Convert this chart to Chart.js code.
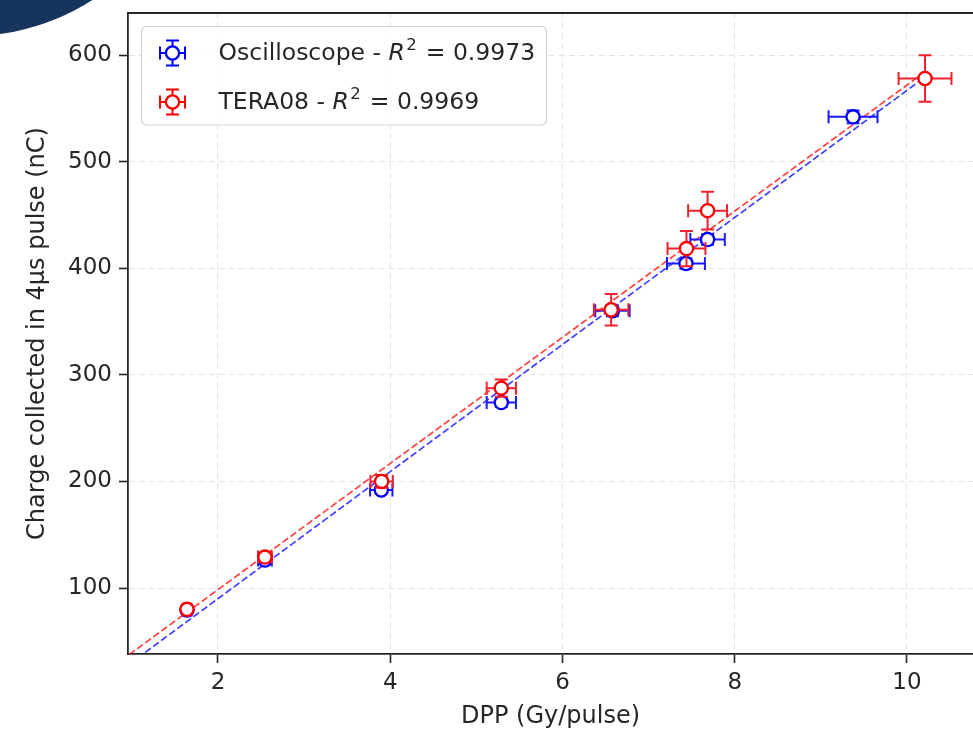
<!DOCTYPE html>
<html><head><meta charset="utf-8">
<script src="https://cdn.jsdelivr.net/npm/chart.js@4.4.1/dist/chart.umd.min.js"></script>
<style>
html,body{margin:0;padding:0;background:#fff;}
#wrap{position:relative;width:973px;height:740px;overflow:hidden;background:#fff;}
#blob{position:absolute;left:-256px;top:-416px;width:452px;height:452px;border-radius:50%;background:#16345c;}
#c{position:absolute;left:0;top:0;}
</style></head><body>
<div id="wrap"><div id="blob"></div><canvas id="c" width="973" height="740"></canvas></div>
<script>
// ---- data ----
const dppOsc    = [1.64, 2.545, 3.896, 5.29, 6.58, 7.434, 7.685, 9.374];
const qOsc      = [79.4, 126.2, 192, 274, 360, 404.4, 426.9, 542];
const dppOscErr = [0.05, 0.08, 0.13, 0.17, 0.2, 0.22, 0.2, 0.284];
const qOscErr   = [1.5, 2, 3, 4, 5, 5, 5, 6];

const dppTera    = [1.64, 2.545, 3.9, 5.29, 6.565, 7.44, 7.685, 10.21];
const qTera      = [80, 129, 200, 287.5, 361, 418.4, 454, 578];
const dppTeraErr = [0.05, 0.08, 0.13, 0.17, 0.2, 0.22, 0.226, 0.307];
const qTeraErr   = [3, 4, 6, 8, 14.8, 16.5, 17.8, 21.8];

// fitted lines (end points)
const fitDpp  = [0.5, 10.21];
const fitOsc  = [0.6, 579.3];
const fitTera = [9.8, 584.2];

const xTicks = [2, 4, 6, 8, 10];
const yTicks = [100, 200, 300, 400, 500, 600];
const xRange = [0.955, 10.767];
const yRange = [38.1, 639.4];

const seriesNames = ['Oscilloscope - ', 'TERA08 - '];
const r2Values = ['0.9973', '0.9969'];

// ---- chart ----
const FONT = "'DejaVu Sans', sans-serif";
const TXT = '#262626';
Chart.defaults.font.family = FONT;
Chart.defaults.font.size = 23;
Chart.defaults.color = TXT;

const pts = (xs, ys) => xs.map((x, i) => ({x: x, y: ys[i]}));

const errorBars = {
  id: 'errorBars',
  beforeDatasetDraw(chart, args) {
    const ds = chart.data.datasets[args.index];
    if (!ds.xErr) return;
    const xs = chart.scales.x, ys = chart.scales.y, ctx = chart.ctx, a = chart.chartArea;
    ctx.save();
    ctx.beginPath(); ctx.rect(a.left, a.top, a.right - a.left, a.bottom - a.top); ctx.clip();
    ctx.strokeStyle = ds.errColor; ctx.lineWidth = 2; ctx.setLineDash([]);
    const c = 6.5;
    ds.data.forEach((p, i) => {
      const px = xs.getPixelForValue(p.x), py = ys.getPixelForValue(p.y);
      const x1 = xs.getPixelForValue(p.x - ds.xErr[i]), x2 = xs.getPixelForValue(p.x + ds.xErr[i]);
      const y1 = ys.getPixelForValue(p.y - ds.yErr[i]), y2 = ys.getPixelForValue(p.y + ds.yErr[i]);
      ctx.beginPath();
      ctx.moveTo(x1, py); ctx.lineTo(x2, py);
      ctx.moveTo(px, y1); ctx.lineTo(px, y2);
      ctx.moveTo(x1, py - c); ctx.lineTo(x1, py + c);
      ctx.moveTo(x2, py - c); ctx.lineTo(x2, py + c);
      ctx.moveTo(px - c, y1); ctx.lineTo(px + c, y1);
      ctx.moveTo(px - c, y2); ctx.lineTo(px + c, y2);
      ctx.stroke();
    });
    ctx.restore();
  }
};

const frame = {
  id: 'frame',
  afterDraw(chart) {
    const a = chart.chartArea, ctx = chart.ctx;
    ctx.save();
    ctx.strokeStyle = TXT; ctx.lineWidth = 1.8;
    ctx.beginPath(); ctx.moveTo(a.left - 0.9, a.top); ctx.lineTo(a.right, a.top); ctx.stroke();
    ctx.restore();
  }
};

function drawIcon(ctx, cx, cy, color) {
  ctx.save();
  ctx.strokeStyle = color; ctx.lineWidth = 2;
  const h = 12.5, c = 6.5;
  ctx.beginPath();
  ctx.moveTo(cx - h, cy); ctx.lineTo(cx + h, cy);
  ctx.moveTo(cx, cy - h); ctx.lineTo(cx, cy + h);
  ctx.moveTo(cx - h, cy - c); ctx.lineTo(cx - h, cy + c);
  ctx.moveTo(cx + h, cy - c); ctx.lineTo(cx + h, cy + c);
  ctx.moveTo(cx - c, cy - h); ctx.lineTo(cx + c, cy - h);
  ctx.moveTo(cx - c, cy + h); ctx.lineTo(cx + c, cy + h);
  ctx.stroke();
  ctx.beginPath(); ctx.arc(cx, cy, 6.6, 0, Math.PI * 2);
  ctx.fillStyle = '#fff'; ctx.fill(); ctx.lineWidth = 2.3; ctx.stroke();
  ctx.restore();
}

const legendBox = {
  id: 'legendBox',
  afterDraw(chart) {
    const ctx = chart.ctx, a = chart.chartArea;
    const bx = a.left + 13.5, by = a.top + 13.5, bw = 405, bh = 98.5, r = 5;
    ctx.save();
    ctx.beginPath();
    ctx.moveTo(bx + r, by); ctx.lineTo(bx + bw - r, by); ctx.arcTo(bx + bw, by, bx + bw, by + r, r);
    ctx.lineTo(bx + bw, by + bh - r); ctx.arcTo(bx + bw, by + bh, bx + bw - r, by + bh, r);
    ctx.lineTo(bx + r, by + bh); ctx.arcTo(bx, by + bh, bx, by + bh - r, r);
    ctx.lineTo(bx, by + r); ctx.arcTo(bx, by, bx + r, by, r); ctx.closePath();
    ctx.fillStyle = 'rgba(255,255,255,0.82)'; ctx.fill();
    ctx.strokeStyle = '#d4d4d4'; ctx.lineWidth = 1.2; ctx.stroke();
    const colors = ['#0000ff', '#ff0000'];
    ctx.fillStyle = TXT; ctx.textBaseline = 'alphabetic'; ctx.textAlign = 'left';
    for (let i = 0; i < 2; i++) {
      const base = by + 33 + i * 49;
      drawIcon(ctx, bx + 31, base - 6.5, colors[i]);
      let x = bx + 77;
      const parts = [
        {t: seriesNames[i], f: '23.5px ' + FONT, dy: 0},
        {t: 'R', f: 'italic 23.5px ' + FONT, dy: 0},
        {t: '2', f: '16.5px ' + FONT, dy: -9.5},
        {t: ' = ' + r2Values[i], f: '23.5px ' + FONT, dy: 0}
      ];
      ctx.fillStyle = TXT;
      parts.forEach(p => {
        ctx.font = p.f;
        ctx.fillText(p.t, x, base + p.dy);
        x += ctx.measureText(p.t).width + (p.t === 'R' ? 1.5 : 0) + (p.t === '2' ? 1.5 : 0);
      });
    }
    ctx.restore();
  }
};

const axisCommon = {
  type: 'linear',
  grid: { color: '#e3e3e3', lineWidth: 1, tickColor: TXT, tickLength: 9, tickWidth: 1.6, tickBorderDash: [] },
  border: { color: TXT, width: 1.8, dash: [6, 4] }
};

new Chart(document.getElementById('c'), {
  type: 'scatter',
  data: {
    datasets: [
      { type: 'line', label: 'fit osc', data: pts(fitDpp, fitOsc), borderColor: 'rgba(0,0,255,0.75)', borderWidth: 1.7,
        borderDash: [7, 3], pointRadius: 0, fill: false, order: 5 },
      { type: 'line', label: 'fit tera', data: pts(fitDpp, fitTera), borderColor: 'rgba(255,0,0,0.75)', borderWidth: 1.7,
        borderDash: [7, 3], pointRadius: 0, fill: false, order: 4 },
      { label: 'Oscilloscope', data: pts(dppOsc, qOsc), xErr: dppOscErr, yErr: qOscErr, errColor: '#1a1aff',
        pointRadius: 6.6, pointBorderWidth: 2.3, pointBackgroundColor: '#fff', pointBorderColor: '#0000ff', order: 2 },
      { label: 'TERA08', data: pts(dppTera, qTera), xErr: dppTeraErr, yErr: qTeraErr, errColor: '#f0202e',
        pointRadius: 6.6, pointBorderWidth: 2.3, pointBackgroundColor: '#fff', pointBorderColor: '#ff0000', order: 1 }
    ]
  },
  options: {
    responsive: false,
    animation: false,
    devicePixelRatio: 1,
    layout: { autoPadding: false, padding: { top: 13, left: 0, right: 0, bottom: 0 } },
    plugins: { legend: { display: false }, tooltip: { enabled: false } },
    scales: {
      x: Object.assign({}, axisCommon, {
        min: xRange[0], max: xRange[1],
        afterBuildTicks: s => { s.ticks = xTicks.map(v => ({value: v})); },
        afterFit: s => { s.height = 86; s.paddingLeft = 0; s.paddingRight = 0; },
        ticks: { padding: 6, color: TXT, font: {size: 23}, callback: v => String(v) },
        title: { display: true, text: 'DPP (Gy/pulse)', color: TXT, font: {size: 24}, padding: {top: 0, bottom: 8.6} }
      }),
      y: Object.assign({}, axisCommon, {
        min: yRange[0], max: yRange[1],
        afterBuildTicks: s => { s.ticks = yTicks.map(v => ({value: v})); },
        afterFit: s => { s.width = 128; s.paddingTop = 0; s.paddingBottom = 0; },
        ticks: { padding: 7, color: TXT, font: {size: 23}, callback: v => String(v) },
        title: { display: true, text: 'Charge collected in 4μs pulse (nC)', color: TXT, font: {size: 24}, padding: {top: 23.5, bottom: 0} }
      })
    }
  },
  plugins: [errorBars, frame, legendBox]
});
</script>
</body></html>
